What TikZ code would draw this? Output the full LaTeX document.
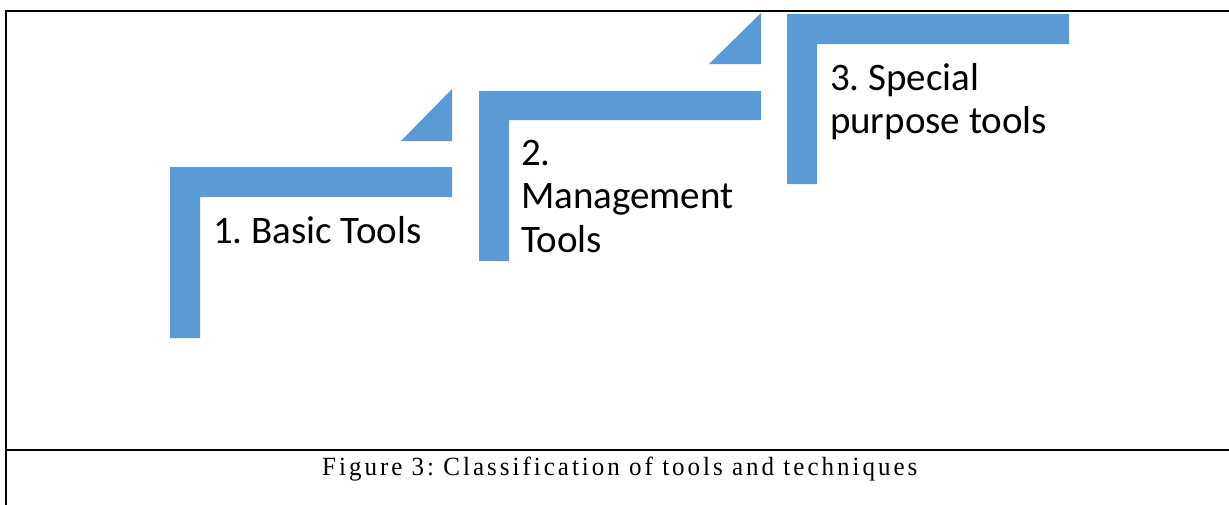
\documentclass[tikz,border=0pt]{standalone}
\usepackage{fontspec}
\setmainfont{Carlito}
\newfontfamily\captionfont{Liberation Serif}[LetterSpace=12]
\definecolor{stepblue}{HTML}{5B9BD5}
\frenchspacing
\begin{document}
\begin{tikzpicture}[x=1pt,y=-1pt,
  stepbar/.style={fill=stepblue,draw=none},
  steplabel/.style={inner sep=0pt,outer sep=0pt,anchor=base west,
    font=\fontsize{39}{43.5}\selectfont},
  frameline/.style={draw=black,line width=2.6pt}]
\useasboundingbox (0,0) rectangle (1229,504);
\clip (0,0) rectangle (1229,504);
\fill[white] (0,0) rectangle (1229,504);

% table frame
\draw[frameline] (6,11) -- (1240,11);
\draw[frameline] (6,450) -- (1240,450);
\draw[frameline] (6,10) -- (6,520);

% step 1
\fill[stepbar] (170,167) -- (452,167) -- (452,197) -- (200,197) -- (200,338) -- (170,338) -- cycle;
\fill[stepbar] (401,141) -- (452,141) -- (452,89) -- cycle;
% step 2
\fill[stepbar] (479,91) -- (761,91) -- (761,120) -- (509,120) -- (509,261) -- (479,261) -- cycle;
\fill[stepbar] (709,64) -- (761,64) -- (761,13) -- cycle;
% step 3
\fill[stepbar] (787,14) -- (1069,14) -- (1069,44) -- (817,44) -- (817,184) -- (787,184) -- cycle;

% labels
\node[steplabel] (basic) at (213,243) {1. Basic Tools};
\node[steplabel] (mgmt) at (521,165) {\begin{tabular}[t]{@{}l@{}}2.\\Management\\Tools\end{tabular}};
\node[steplabel] (special) at (830,90) {\begin{tabular}[t]{@{}l@{}}3. Special\\purpose tools\end{tabular}};

% caption
\node[inner sep=0pt,anchor=base west] (caption) at (322,475)
  {\resizebox{595pt}{18.5pt}{\captionfont Figure 3: Classification of tools and techniques}};
\end{tikzpicture}
\end{document}
